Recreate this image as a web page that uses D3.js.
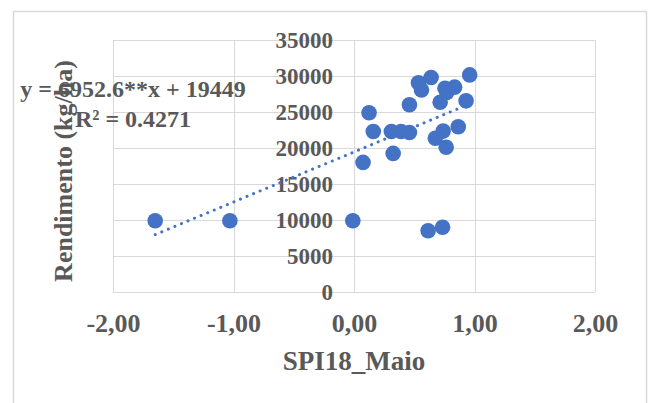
<!DOCTYPE html>
<html>
<head>
<meta charset="utf-8">
<script src="https://cdn.jsdelivr.net/npm/d3@7"></script>
<style>
  body { margin: 0; background: #fff; }
  .tick text { font-family: "Liberation Serif", "Times New Roman", serif; font-weight: bold; fill: #595959; }
  .axisText { font-family: "Liberation Serif", "Times New Roman", serif; font-weight: bold; fill: #595959; }
</style>
</head>
<body>
<div id="scatter"></div>
<script>
// data
var spiMaio = [-1.65, -1.03, -0.01, 0.075, 0.125, 0.16, 0.31, 0.325, 0.39, 0.46, 0.46, 0.535, 0.56,
  0.64, 0.615, 0.735, 0.675, 0.74, 0.765, 0.715, 0.755, 0.835, 0.77, 0.93, 0.96, 0.865];
var rendimento = [9900, 9900, 9900, 18000, 24900, 22300, 22300, 19250, 22300, 22150, 26000, 29050, 28050,
  29800, 8500, 9000, 21350, 22350, 20100, 26350, 28300, 28450, 27700, 26550, 30150, 22950];
var xTicks = [-2, -1, 0, 1, 2];
var yTicks = [0, 5000, 10000, 15000, 20000, 25000, 30000, 35000];
var trendSlope = 6952.6;
var trendIntercept = 19449;
var equationLines = ["y = 6952.6**x + 19449", "R² = 0.4271"];

//frame svg space
var svgWidth = 649;
var svgHeight = 403;

var margin = { top: 40, right: 54, bottom: 111, left: 113 };
var width = 595 - margin.left;
var height = 292 - margin.top;

var svg = d3.select("#scatter")
  .append("svg")
  .attr("width", svgWidth)
  .attr("height", svgHeight);

// outer chart border
svg.append("rect")
  .attr("x", 13.5)
  .attr("y", 11.5)
  .attr("width", 633)
  .attr("height", 420)
  .attr("fill", "none")
  .attr("stroke", "#d9d9d9")
  .attr("stroke-width", 1.5);

var chartGroup = svg.append("g")
  .attr("transform", `translate(${margin.left}, ${margin.top})`);

var xLinearScale = d3.scaleLinear()
  .domain([-2, 2])
  .range([0, width]);

var yLinearScale = d3.scaleLinear()
  .domain([0, 35000])
  .range([height, 0]);

// gridlines
chartGroup.append("g")
  .selectAll("line")
  .data(yTicks)
  .enter()
  .append("line")
  .attr("x1", 0)
  .attr("x2", width)
  .attr("y1", d => Math.round(yLinearScale(d)) + 0.5)
  .attr("y2", d => Math.round(yLinearScale(d)) + 0.5)
  .attr("stroke", "#d9d9d9");

chartGroup.append("g")
  .selectAll("line")
  .data(xTicks)
  .enter()
  .append("line")
  .attr("x1", d => Math.round(xLinearScale(d)) + 0.5)
  .attr("x2", d => Math.round(xLinearScale(d)) + 0.5)
  .attr("y1", 0)
  .attr("y2", height)
  .attr("stroke", "#d9d9d9");

// axes: y axis crosses at x = 0, labels only
var bottomAxis = d3.axisBottom(xLinearScale)
  .tickValues(xTicks)
  .tickSize(0)
  .tickPadding(22)
  .tickFormat(d => d3.format(".2f")(d).replace(".", ",").replace("−", "-"));

var leftAxis = d3.axisLeft(yLinearScale)
  .tickValues(yTicks)
  .tickSize(0)
  .tickPadding(21)
  .tickFormat(d3.format("d"));

var xAxisG = chartGroup.append("g")
  .attr("transform", `translate(0, ${height})`)
  .call(bottomAxis);
xAxisG.select(".domain").remove();
xAxisG.selectAll("text").style("font-size", "26px");

var yAxisG = chartGroup.append("g")
  .attr("transform", `translate(${xLinearScale(0)}, 0)`)
  .call(leftAxis);
yAxisG.select(".domain").remove();
yAxisG.selectAll("text").style("font-size", "23px");

// axis titles
chartGroup.append("text")
  .attr("class", "axisText")
  .attr("transform", `translate(${width / 2}, ${370 - margin.top})`)
  .attr("text-anchor", "middle")
  .style("font-size", "27px")
  .text("SPI18_Maio");

chartGroup.append("text")
  .attr("class", "axisText")
  .attr("transform", `translate(${72 - margin.left}, ${height / 2 + 5}) rotate(-90)`)
  .attr("text-anchor", "middle")
  .style("font-size", "26px")
  .text("Rendimento (kg/ha)");

// circles
var points = spiMaio.map((x, i) => ({ x: x, y: rendimento[i] }));

chartGroup.selectAll("circle")
  .data(points)
  .enter()
  .append("circle")
  .attr("cx", d => xLinearScale(d.x))
  .attr("cy", d => yLinearScale(d.y))
  .attr("r", 7.8)
  .attr("fill", "#4472c4");

// dotted linear trendline
var xExtent = d3.extent(spiMaio);
var trendData = xExtent.map(x => ({ x: x, y: trendSlope * x + trendIntercept }));

chartGroup.append("path")
  .datum(trendData)
  .attr("d", d3.line().x(d => xLinearScale(d.x)).y(d => yLinearScale(d.y)))
  .attr("fill", "none")
  .attr("stroke", "#4472c4")
  .attr("stroke-width", 3)
  .attr("stroke-linecap", "round")
  .attr("stroke-dasharray", "0.1 7");

// trendline equation
svg.append("g")
  .selectAll("text")
  .data(equationLines)
  .enter()
  .append("text")
  .attr("class", "axisText")
  .attr("x", 133)
  .attr("y", (d, i) => 97 + i * 30)
  .attr("text-anchor", "middle")
  .style("font-size", "24px")
  .text(d => d);
</script>
</body>
</html>
